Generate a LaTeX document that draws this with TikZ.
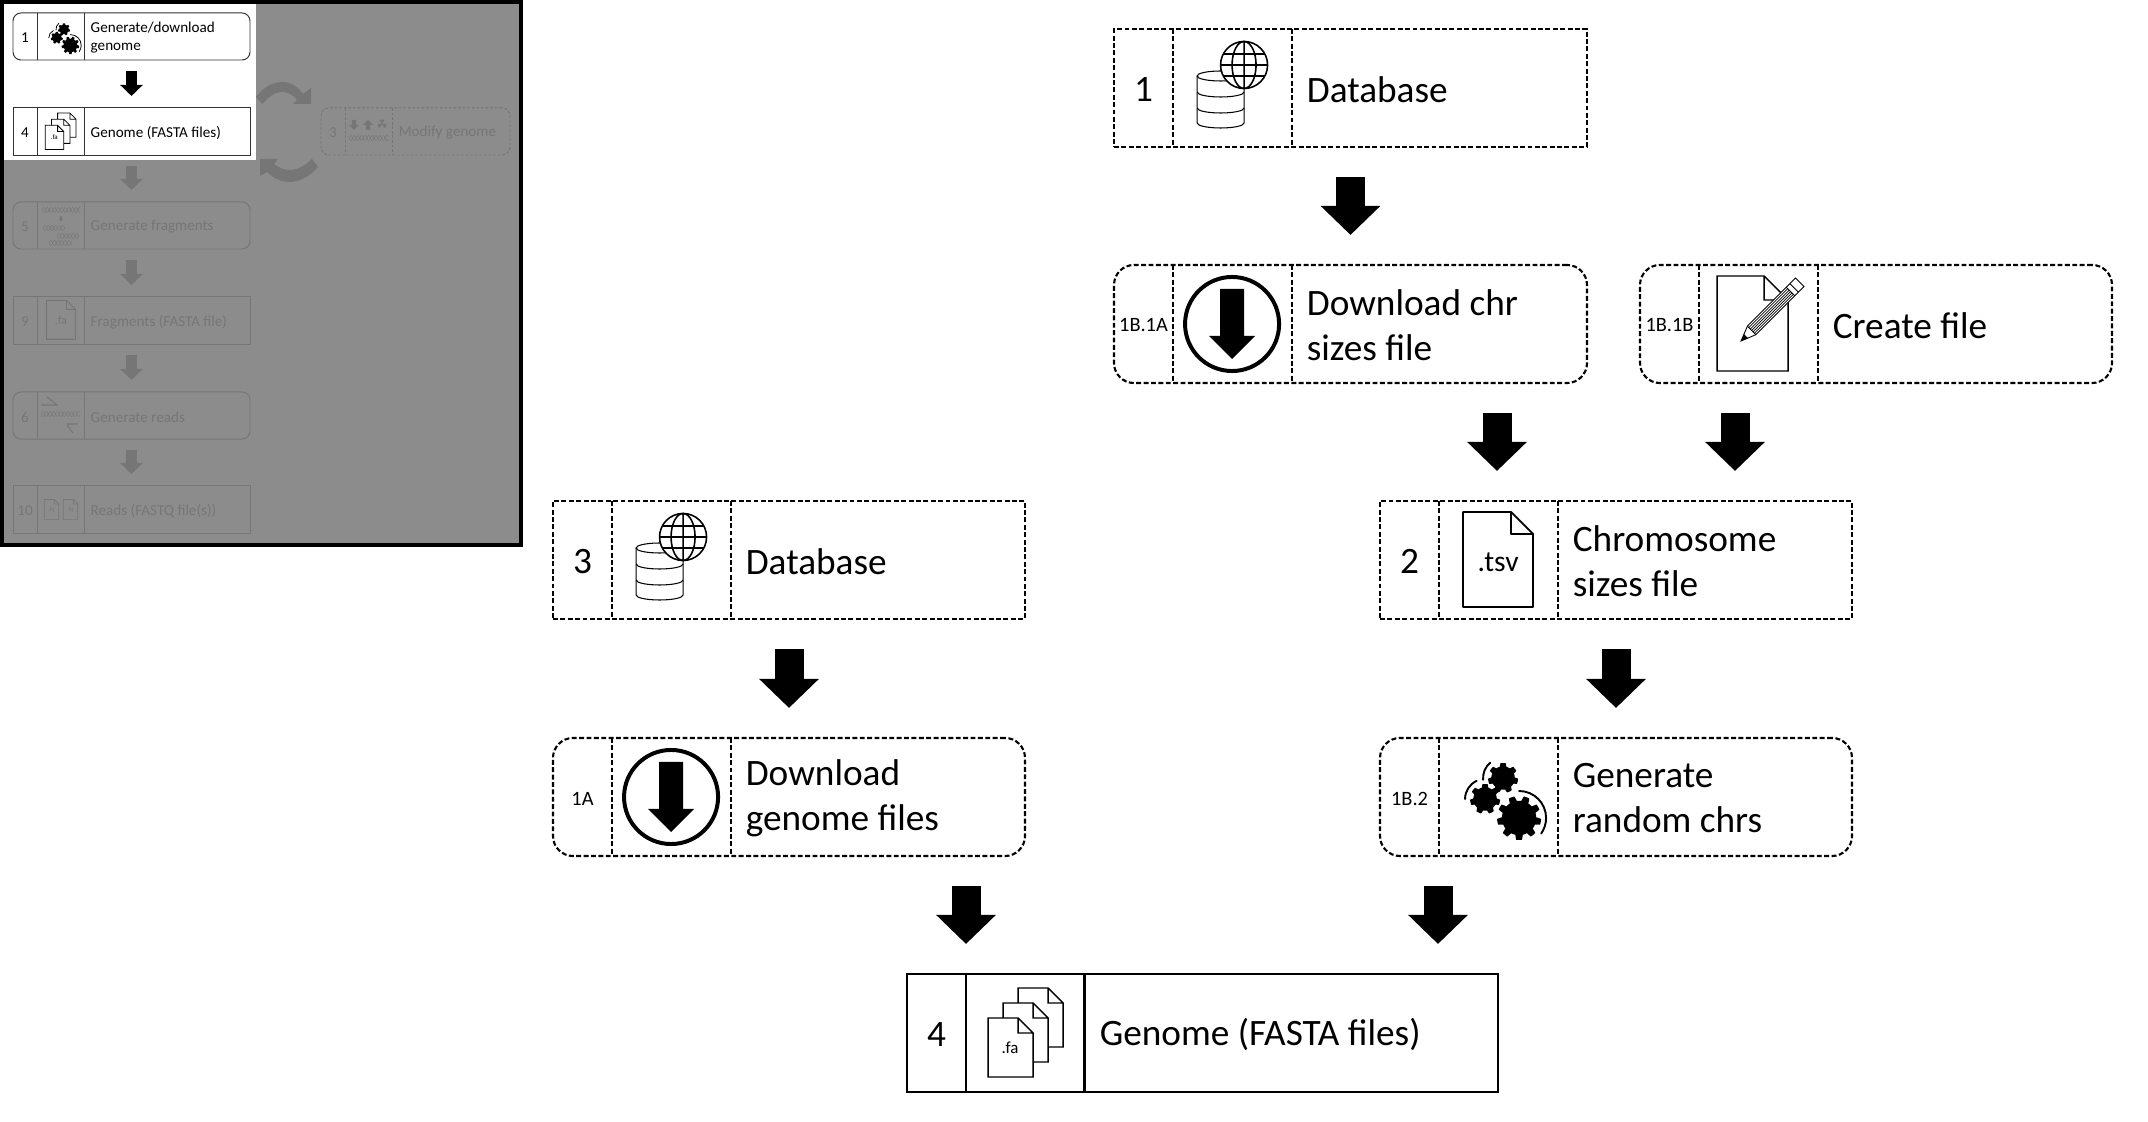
\documentclass[tikz,border=0pt]{standalone}
\usepackage{fontspec}
\setmainfont{Carlito}
\usetikzlibrary{arrows.meta}
\definecolor{bggray}{HTML}{8C8C8C}
\definecolor{fggray}{HTML}{767676}
\newcommand{\lab}{\fontsize{5.8}{7}\selectfont}
\tikzstyle{cell}=[draw,inner sep=0pt,outer sep=0pt]
\tikzstyle{big}=[cell,minimum height=1.18cm]
\tikzstyle{ds}=[big,line width=.6pt,dash pattern=on 1.4pt off .7pt]
\tikzstyle{dr}=[ds,rounded corners=.2cm]
\tikzstyle{sd}=[big,line width=.65pt]
\tikzstyle{txt}=[inner sep=0pt,align=left,font=\fontsize{10.6}{12.8}\selectfont]
\tikzstyle{blk}=[line width=.29cm,-{Triangle[length=.29cm,width=.58cm]},shorten <=.3cm,shorten >=.3cm]
\tikzstyle{inb}=[cell,minimum height=.47cm,line width=.28pt,draw=black!80]
\tikzstyle{inr}=[inb,rounded corners=.08cm]
\tikzstyle{gb}=[inb,draw=fggray]
\tikzstyle{gr}=[inr,draw=fggray]
\tikzstyle{gd}=[gr,dash pattern=on .8pt off .5pt]
\tikzstyle{intxt}=[inner sep=0pt,align=left,font=\fontsize{4.3}{5.1}\selectfont]
\tikzstyle{inblk}=[line width=.1cm,-{Triangle[length=.11cm,width=.22cm]},shorten <=.11cm,shorten >=.12cm]
\newcommand{\gear}[4]{\fill[shift={(#1,#2)}] plot[domain=0:360,samples=145,variable=\t]
  (\t:{#3*(.78+.22*max(0,min(1,.5+1.5*sin(#4*\t))))}) -- cycle;}
\newcommand{\dna}[3]{\foreach \p in {0,180} {\draw[fggray,line width=.12pt] plot[domain=0:#2-#1,samples=60,variable=\t]
  ({#1+\t},{#3+2.5*sin(\t*50+\p)});}}
\tikzset{
  dbpic/.pic={
    \draw (-35,-12) -- (-35,35) arc[start angle=180,end angle=360,x radius=.235cm,y radius=.05cm] -- (12,-12);
    \draw (-11.5,-12) ellipse[x radius=.235cm,y radius=.05cm];
    \foreach \y in {4,20} {\draw (-35,\y) arc[start angle=180,end angle=360,x radius=.235cm,y radius=.05cm];}
    \filldraw[fill=white,line width=.45pt] (12,-23) circle[radius=.235cm];
    \draw[line width=.45pt] (12,-23) ellipse[x radius=.12cm,y radius=.235cm] (12,-46.5) -- (12,.5)
      (-11.5,-23) -- (35.5,-23) (-8.8,-34) -- (32.8,-34) (-8.8,-12) -- (32.8,-12);
  },
  dlpic/.pic={
    \draw[line width=1.13pt] (0,0) circle[radius=.47cm];
    \fill (-12,-35) -- (12,-35) -- (12,12) -- (23,12) -- (0,35) -- (-23,12) -- (-12,12) -- cycle;
  },
  onefile/.pic={
    \draw[line join=round] (-35,-48) -- (13,-48) -- (35,-26) -- (35,47) -- (-35,47) -- cycle (13,-48) -- (13,-26) -- (35,-26);
    \node[transform shape,inner sep=0pt,font=\fontsize{8.4}{9}\selectfont] (ftx) at (0,2) {#1};
  },
  penpic/.pic={
    \draw[line width=.4pt] (-41,-48) -- (6,-48) -- (30,-24) -- (30,47) -- (-41,47) -- cycle (6,-48) -- (6,-24) -- (30,-24);
    \begin{scope}[shift={(-17,17)},rotate=45]
      \filldraw[fill=white,line width=.25pt] (0,0) -- (15,-6) -- (83,-6) -- (83,6) -- (15,6) -- cycle;
      \fill (0,0) -- (7,-3) -- (7,3) -- cycle;
      \draw[line width=.25pt] (15,-6) -- (15,6) (70,-6) -- (70,6) (75,-6) -- (75,6);
      \foreach \t in {-4,-2,0,2,4} {\draw[line width=.2pt] (15,\t) -- (70,\t);}
    \end{scope}
  },
  gearspic/.pic={
    \gear{21}{21}{22}{9}
    \gear{-13}{2}{15}{7}
    \gear{5}{-19}{15}{7}
    \draw[line cap=round] (21,21) ++(90:.27cm) arc[start angle=90,end angle=-35,radius=.27cm];
    \draw[line cap=round] (-13,2) ++(115:.2cm) arc[start angle=115,end angle=180,radius=.2cm];
    \draw[line cap=round] (5,-19) ++(130:.2cm) arc[start angle=130,end angle=185,radius=.2cm];
  },
  fapic/.pic={
    \foreach \d in {30,15,0} {
      \filldraw[fill=white,shift={(\d,-\d)}] (-37,-15) -- (-7,-15) -- (8,0) -- (8,44) -- (-37,44) -- cycle
        (-7,-15) -- (-7,0) -- (8,0);}
    \node[transform shape,inner sep=0pt,font=\fontsize{4.8}{6}\selectfont] (ftx) at (-15,15) {.fa};
  },
  tinydown/.pic={
    \fill (-2.2,-5) -- (2.2,-5) -- (2.2,0) -- (5,0) -- (0,5) -- (-5,0) -- (-2.2,0) -- cycle;
  },
  radpic/.pic={
    \fill (0,0) circle[radius=.008cm];
    \foreach \a in {90,210,330} {\fill ({\a-30}:.045cm) arc[start angle={\a-30},end angle={\a+30},radius=.045cm] -- (0,0) -- cycle;}
  }
}
\begin{document}
\begin{tikzpicture}[x=.01cm,y=-.01cm]
\useasboundingbox (0,0) rectangle (2148,1122);
% small overview
\fill[black] (0,0) rectangle (523,547);
\fill[bggray] (4,4) rectangle (519,543);
\fill[white] (4,4) rectangle (256,160);
\fill[fggray] (256,97) .. controls (264,86) and (274,82) .. (283,82) .. controls (291,82) and (298,87) .. (303,94) -- (311,88) -- (311,104) -- (293,104) -- (297,100) .. controls (293,95) and (288,92) .. (282,92) .. controls (274,92) and (268,98) .. (262,104) -- cycle;
\fill[fggray] (260,159) -- (278,159) -- (274,164) .. controls (279,168) and (285,170) .. (290,170) .. controls (298,170) and (306,165) .. (312,159) -- (318,167) .. controls (310,176) and (300,182) .. (290,182) .. controls (281,182) and (273,178) .. (267,172) -- (260,176) -- cycle;
\foreach \nm/\x/\y/\w/\st/\tc/\num/\tx in {
  a1/13/13/237/inr/black/1/{Generate/download\\genome},
  a4/13/108/237/inb/black/4/{Genome (FASTA files)},
  a3/321/108/189/gd/fggray/3/{Modify genome},
  a5/13/202/237/gr/fggray/5/{Generate fragments},
  a9/13/297/237/gb/fggray/9/{Fragments (FASTA file)},
  a6/13/392/237/gr/fggray/6/{Generate reads},
  a10/13/486/237/gb/fggray/10/{Reads (FASTQ file(s))}} {
  \node[\st,minimum width=\w*.01cm] (\nm) at ({\x+\w/2},{\y+23.5}) {};
  \draw[\st] ([xshift=.24cm]\nm.north west) -- ([xshift=.24cm]\nm.south west);
  \draw[\st] ([xshift=.71cm]\nm.north west) -- ([xshift=.71cm]\nm.south west);
  \node[intxt,text=\tc] (\nm n) at ([xshift=.12cm,yshift=-.015cm]\nm.west) {\num};
  \node[intxt,text=\tc,anchor=west] (\nm t) at ([xshift=.77cm,yshift=-.015cm]\nm.west) {\tx};
}
\draw[inblk] (a1) -- (a4);
\draw[inblk,fggray] (a4) -- (a5);
\draw[inblk,fggray] (a5) -- (a9);
\draw[inblk,fggray] (a9) -- (a6);
\draw[inblk,fggray] (a6) -- (a10);
\pic[scale=.4,line width=.22pt] at (62,37) {gearspic};
\pic[scale=.41,line width=.22pt] at (60.5,131.5) {fapic};
% grey icons of the overview
\dna{42}{80}{210}
\pic[scale=.5,fggray] at (61,219) {tinydown};
\dna{43}{65}{228}
\dna{57}{79}{236}
\dna{49}{72}{243}
\pic[scale=.41,fggray,text=fggray,line width=.3pt] at (61,320) {onefile={.fa}};
\draw[fggray,line width=.3pt] (41,405) -- (57,405) -- (47,397);
\dna{41}{80}{414}
\draw[fggray,line width=.3pt,dashed] (67,424) -- (81,424) (67,425) -- (73,433);
\pic[scale=.21,fggray,text=fggray,line width=.2pt] at (51.5,509.5) {onefile={.fq}};
\pic[scale=.21,fggray,text=fggray,line width=.2pt] at (70.5,509.5) {onefile={.fq}};
\pic[fggray] at (354,125) {tinydown};
\pic[fggray,rotate=180] at (368,125) {tinydown};
\pic[fggray] at (382,124) {radpic};
\dna{349}{388}{138}
% steps
\foreach \nm/\x/\y/\w/\st/\num/\tx in {
  db1/1114/29/473/ds/1/{Database},
  dl1/1114/265/473/dr/{\lab 1B.1A}/{Download chr\\sizes file},
  cf/1640/265/472/dr/{\lab 1B.1B}/{Create file},
  sz/1380/501/472/ds/2/{Chromosome\\sizes file},
  db3/553/501/472/ds/3/{Database},
  dl3/553/738/472/dr/{\lab 1A}/{Download\\genome files},
  gn/1380/738/472/dr/{\lab 1B.2}/{Generate\\random chrs},
  fa/907/974/591/sd/4/{Genome (FASTA files)}} {
  \node[\st,minimum width=\w*.01cm] (\nm) at ({\x+\w/2},{\y+59}) {};
  \draw[\st] ([xshift=.59cm]\nm.north west) -- ([xshift=.59cm]\nm.south west);
  \draw[\st] ([xshift=1.775cm]\nm.north west) -- ([xshift=1.775cm]\nm.south west);
  \node[txt] (\nm n) at ([xshift=.295cm,yshift=-.015cm]\nm.west) {\num};
  \node[txt,anchor=west] (\nm t) at ([xshift=1.92cm,yshift=-.015cm]\nm.west) {\tx};
}
\pic[line width=.3pt] at ([xshift=1.18cm]db1.west) {dbpic};
\pic[line width=.3pt] at ([xshift=1.18cm]db3.west) {dbpic};
\pic at ([xshift=1.18cm]dl1.west) {dlpic};
\pic at ([xshift=1.18cm]dl3.west) {dlpic};
\pic[line width=.5pt] at ([xshift=1.18cm]sz.west) {onefile={.tsv}};
\pic at ([xshift=1.18cm]cf.west) {penpic};
\pic[line width=.55pt] at ([xshift=1.18cm]gn.west) {gearspic};
\pic[line width=.4pt] at ([xshift=1.18cm]fa.west) {fapic};
% block arrows
\coordinate (xa) at (1497,0);
\coordinate (xb) at (1735,0);
\coordinate (xc) at (966,0);
\coordinate (xd) at (1438,0);
\draw[blk] (db1) -- (dl1);
\draw[blk] (dl1.south -| xa) -- (sz.north -| xa);
\draw[blk] (cf.south -| xb) -- (sz.north -| xb);
\draw[blk] (db3) -- (dl3);
\draw[blk] (sz) -- (gn);
\draw[blk] (dl3.south -| xc) -- (fa.north -| xc);
\draw[blk] (gn.south -| xd) -- (fa.north -| xd);
\end{tikzpicture}
\end{document}
